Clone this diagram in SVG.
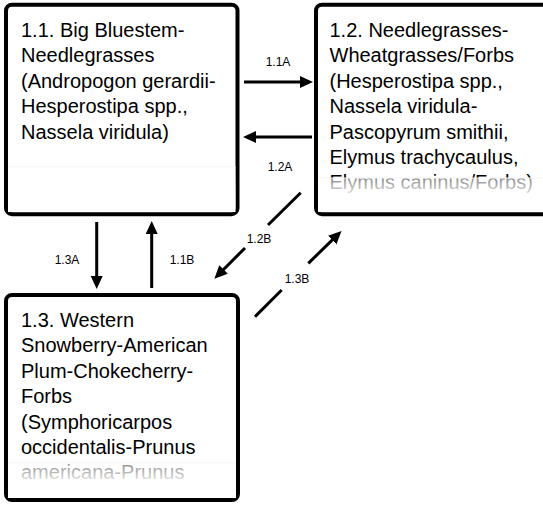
<svg xmlns="http://www.w3.org/2000/svg" width="543" height="506" viewBox="0 0 543 506">
<defs>
<style>
.box{fill:#fff;stroke:#000;stroke-width:4}
.t{font-family:"Liberation Sans",Arial,sans-serif;font-size:20px;fill:#000}
.lbl{font-family:"Liberation Sans",Arial,sans-serif;font-size:12px;fill:#000;text-anchor:middle}
.c{stroke:#000;stroke-width:3;fill:none}
.fadeline{stroke:#eeeeee;stroke-width:1}
</style>
<marker id="ah" markerUnits="userSpaceOnUse" markerWidth="14" markerHeight="13" refX="6" refY="6.5" orient="auto">
<path d="M0,0.5 L13,6.5 L0,12.5 z" fill="#000"/>
</marker>
<linearGradient id="fade" x1="0" y1="0" x2="0" y2="1">
<stop offset="0" stop-color="#fff" stop-opacity="0.55"/>
<stop offset="0.6" stop-color="#fff" stop-opacity="0.95"/>
<stop offset="1" stop-color="#fff" stop-opacity="1"/>
</linearGradient>
</defs>
<rect width="543" height="506" fill="#fff"/>
<g id="node-1-1">
<rect class="box" x="6" y="4.7" width="231.5" height="209.5" rx="6"/>
<text class="t"><tspan x="21" y="37">1.1. Big Bluestem-</tspan><tspan x="21" y="62.4">Needlegrasses</tspan><tspan x="21" y="87.8">(Andropogon gerardii-</tspan><tspan x="21" y="113.2">Hesperostipa spp.,</tspan><tspan x="21" y="138.6">Nassela viridula)</tspan></text>
<line class="fadeline" x1="8" y1="167" x2="235.5" y2="167"/>
<rect x="8" y="167" width="227.5" height="45" fill="url(#fade)"/>
</g>
<g id="node-1-2">
<rect class="box" x="316" y="4.7" width="240" height="209.5" rx="6"/>
<text class="t"><tspan x="329.5" y="37">1.2. Needlegrasses-</tspan><tspan x="329.5" y="62.4">Wheatgrasses/Forbs</tspan><tspan x="329.5" y="87.8">(Hesperostipa spp.,</tspan><tspan x="329.5" y="113.2">Nassela viridula-</tspan><tspan x="329.5" y="138.6">Pascopyrum smithii,</tspan><tspan x="329.5" y="164">Elymus trachycaulus,</tspan><tspan x="329.5" y="189.4">Elymus caninus/Forbs)</tspan></text>
<line class="fadeline" x1="318" y1="178" x2="543" y2="178"/>
<rect x="318" y="178" width="230" height="34" fill="url(#fade)"/>
</g>
<g id="node-1-3">
<rect class="box" x="6" y="295" width="232" height="205" rx="6"/>
<text class="t"><tspan x="21" y="327">1.3. Western</tspan><tspan x="21" y="352.4">Snowberry-American</tspan><tspan x="21" y="377.8">Plum-Chokecherry-</tspan><tspan x="21" y="403.2">Forbs</tspan><tspan x="21" y="428.6">(Symphoricarpos</tspan><tspan x="21" y="454">occidentalis-Prunus</tspan><tspan x="21" y="479.4">americana-Prunus</tspan></text>
<line class="fadeline" x1="8" y1="463" x2="236" y2="463"/>
<rect x="8" y="463" width="228" height="35" fill="url(#fade)"/>
</g>
<g id="connectors">
<line class="c" x1="244" y1="82" x2="306" y2="82" marker-end="url(#ah)"/>
<text class="lbl" x="278" y="66">1.1A</text>
<line class="c" x1="312" y1="137" x2="250" y2="137" marker-end="url(#ah)"/>
<text class="lbl" x="280" y="171">1.2A</text>
<line class="c" x1="96.7" y1="222" x2="96.7" y2="282" marker-end="url(#ah)"/>
<text class="lbl" x="67" y="264">1.3A</text>
<line class="c" x1="151.7" y1="288" x2="151.7" y2="228" marker-end="url(#ah)"/>
<text class="lbl" x="182" y="264">1.1B</text>
<line class="c" x1="300.7" y1="192.7" x2="268" y2="225"/>
<line class="c" x1="245" y1="248" x2="219.3" y2="273.7" marker-end="url(#ah)"/>
<text class="lbl" x="259" y="243">1.2B</text>
<line class="c" x1="255" y1="316.7" x2="281.7" y2="290"/>
<line class="c" x1="308.3" y1="263.3" x2="336.5" y2="235.9" marker-end="url(#ah)"/>
<text class="lbl" x="297" y="283">1.3B</text>
</g>
</svg>
